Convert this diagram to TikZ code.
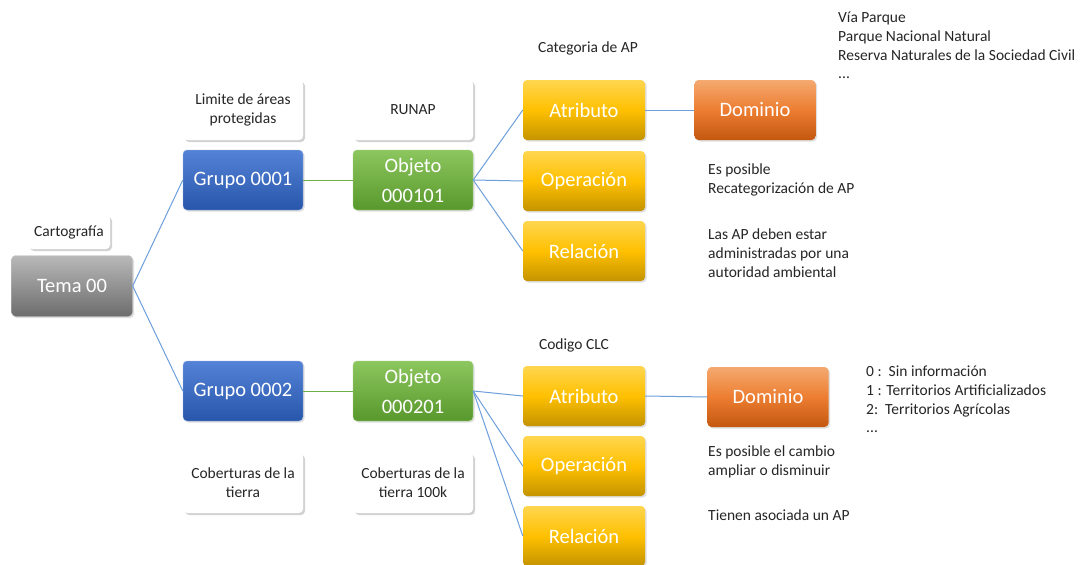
\documentclass[tikz,border=0pt]{standalone}
\usepackage{fontspec}
\setmainfont{Carlito}
\usetikzlibrary{shadows}
\definecolor{lineblue}{HTML}{6E9FDB}
\definecolor{linegreen}{HTML}{70AD47}
\definecolor{txt}{HTML}{262626}
\tikzset{
  x=1pt, y=-1pt,
  cbox/.style={rounded corners=4pt, minimum width=120pt, minimum height=60pt,
    text=white, font=\fontsize{20.5}{30}\selectfont, align=center, inner sep=0pt,
    shading=axis, shading angle=0,
    drop shadow={opacity=0.25, shadow xshift=1.5pt, shadow yshift=-1.5pt}},
  graybox/.style={cbox, top color=gray!55, bottom color=gray!85!black, draw=gray!40},
  bluebox/.style={cbox, top color={rgb,255:red,84;green,130;blue,214}, bottom color={rgb,255:red,40;green,86;blue,170}, draw={rgb,255:red,150;green,180;blue,230}},
  greenbox/.style={cbox, top color={rgb,255:red,140;green,198;blue,94}, bottom color={rgb,255:red,88;green,152;blue,44}, draw={rgb,255:red,170;green,215;blue,140}},
  yellowbox/.style={cbox, top color={rgb,255:red,255;green,214;blue,80}, bottom color={rgb,255:red,196;green,148;blue,0}, middle color={rgb,255:red,255;green,192;blue,0}},
  orangebox/.style={cbox, top color={rgb,255:red,245;green,170;blue,112}, bottom color={rgb,255:red,196;green,88;blue,16}, middle color={rgb,255:red,236;green,125;blue,49}},
  wbox/.style={rounded corners=4pt, minimum width=120pt, minimum height=60pt, fill=white,
    text=txt, font=\fontsize{15.5}{19}\selectfont, align=center, inner sep=0pt,
    drop shadow={opacity=0.35, shadow xshift=2pt, shadow yshift=-2pt}},
  note/.style={text=txt, font=\fontsize{15.5}{18.7}\selectfont, align=left, inner sep=0pt, anchor=north west},
  ctext/.style={text=txt, font=\fontsize{15.5}{19}\selectfont, inner sep=0pt},
  bl/.style={draw=lineblue, line width=1pt},
  gl/.style={draw=linegreen, line width=1pt},
}
\begin{document}
\begin{tikzpicture}
\useasboundingbox (0,0) rectangle (1090,565);
\fill[white] (0,0) rectangle (1090,565);

% labels
\node[wbox, minimum width=82pt, minimum height=34pt] (carto) at (69,232) {Cartografía};
\node[wbox] (lim) at (243,110) {Limite de áreas\\protegidas};
\node[wbox] (runap) at (413,110) {RUNAP};
\node[wbox] (cob) at (243,483) {Coberturas de la\\tierra};
\node[wbox] (cobk) at (413,483) {Coberturas de la\\tierra 100k};

% main boxes
\node[graybox, minimum width=121pt, minimum height=61pt] (tema) at (72,286) {Tema 00};
\node[bluebox] (g1) at (243,180) {Grupo 0001};
\node[bluebox] (g2) at (243,391) {Grupo 0002};
\node[greenbox] (o1) at (413,180) {Objeto\\000101};
\node[greenbox] (o2) at (413,391) {Objeto\\000201};

\node[yellowbox, minimum width=122pt] (a1) at (584,110) {Atributo};
\node[yellowbox, minimum width=122pt] (op1) at (584,181) {Operación};
\node[yellowbox, minimum width=122pt] (r1) at (584,251) {Relación};
\node[orangebox, minimum width=121pt] (d1) at (755,110) {Dominio};

\node[yellowbox, minimum width=122pt] (a2) at (584,396) {Atributo};
\node[yellowbox, minimum width=122pt] (op2) at (584,466) {Operación};
\node[yellowbox, minimum width=122pt] (r2) at (584,536) {Relación};
\node[orangebox, minimum width=121pt] (d2) at (768,397) {Dominio};

% texts
\node[ctext] (cat) at (588,48) {Categoria de AP};
\node[ctext] (clc) at (574,345) {Codigo CLC};
\node[note] (list1) at (838,12) {Vía Parque\\Parque Nacional Natural\\Reserva Naturales de la Sociedad Civil\\...};
\node[note] (n1) at (708,164) {Es posible\\Recategorización de AP};
\node[note] (n2) at (708,229) {Las AP deben estar\\administradas por una\\autoridad ambiental};
\node[note] (list2) at (866,366) {0 :\ \ Sin información\\1 : Territorios Artificializados\\2:\ \ Territorios Agrícolas\\...};
\node[note] (n3) at (708,446) {Es posible el cambio\\ampliar o disminuir};
\node[note] (n4) at (708,510) {Tienen asociada un AP};

% connectors
\draw[bl] (tema.east) -- (g1.west);
\draw[bl] (tema.east) -- (g2.west);
\draw[gl] (g1.east) -- (o1.west);
\draw[gl] (g2.east) -- (o2.west);
\draw[bl] (o1.east) -- (a1.west);
\draw[bl] (o1.east) -- (op1.west);
\draw[bl] (o1.east) -- (r1.west);
\draw[bl] (a1.east) -- (d1.west);
\draw[bl] (o2.east) -- (a2.west);
\draw[bl] (o2.east) -- (op2.west);
\draw[bl] (o2.east) -- (r2.west);
\draw[bl] (a2.east) -- (d2.west);
\end{tikzpicture}
\end{document}
